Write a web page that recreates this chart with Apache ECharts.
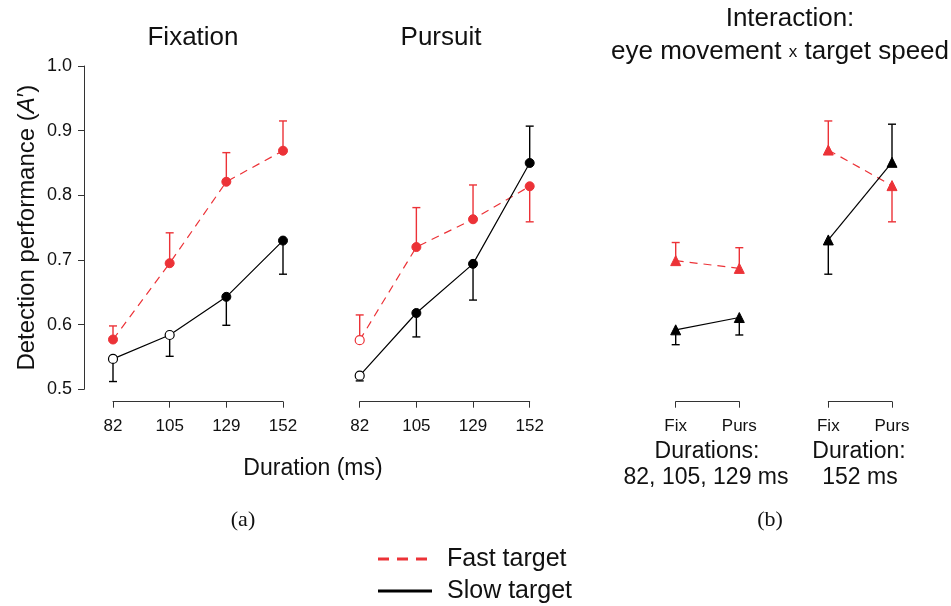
<!DOCTYPE html>
<html>
<head>
<meta charset="utf-8">
<script src="https://cdn.jsdelivr.net/npm/echarts@6/dist/echarts.min.js"></script>
<style>html,body{margin:0;padding:0;background:#fff}#c{width:951px;height:606px}</style>
</head>
<body>
<div id="c"></div>
<script>
// ---- data ----
const durations = ['82', '105', '129', '152'];
const eyeMoves = ['Fix', 'Purs'];
const yTicksMin = 0.5, yTicksMax = 1.0, yTickStep = 0.1;

// Panel (a) Fixation
const fixFast = [0.577, 0.695, 0.821, 0.869];
const fixFastErr = [0.598, 0.742, 0.866, 0.915];
const fixFastOpen = [false, false, false, false];
const fixSlow = [0.547, 0.584, 0.643, 0.730];
const fixSlowErr = [0.512, 0.551, 0.599, 0.678];
const fixSlowOpen = [true, true, false, false];

// Panel (a) Pursuit
const pursFast = [0.576, 0.720, 0.763, 0.814];
const pursFastErr = [0.615, 0.781, 0.816, 0.759];
const pursFastOpen = [true, false, false, false];
const pursSlow = [0.521, 0.618, 0.694, 0.850];
const pursSlowErr = [0.513, 0.581, 0.638, 0.907];
const pursSlowOpen = [true, false, false, false];

// Panel (b) interaction
const earlyFast = [0.699, 0.687];
const earlyFastErr = [0.727, 0.719];
const earlySlow = [0.592, 0.611];
const earlySlowErr = [0.569, 0.584];
const lateFast = [0.870, 0.815];
const lateFastErr = [0.915, 0.759];
const lateSlow = [0.731, 0.851];
const lateSlowErr = [0.678, 0.910];

// ---- styling ----
const RED = '#ec3237';
const BLACK = '#000000';
const AXIS = '#333333';
const FONT = 'Liberation Sans, Arial, sans-serif';

const chart = echarts.init(document.getElementById('c'), null, {renderer: 'canvas'});

const gridTop = 66, gridH = 323.3;
const grids = [
  {left: 113, width: 170, top: gridTop, height: gridH},
  {left: 359.7, width: 170, top: gridTop, height: gridH},
  {left: 675.7, width: 63.6, top: gridTop, height: gridH},
  {left: 828.3, width: 63.7, top: gridTop, height: gridH}
];

function xAxisFor(idx, cats) {
  return {
    gridIndex: idx, type: 'category', data: cats, boundaryGap: false, offset: 12.4,
    axisLine: {show: true, lineStyle: {color: AXIS, width: 1}},
    axisTick: {show: true, length: 6, alignWithLabel: true, interval: 0, lineStyle: {color: AXIS, width: 1}},
    axisLabel: {interval: 0, fontSize: 17, color: '#111', fontFamily: FONT, margin: 16},
    splitLine: {show: false}
  };
}
function yAxisFor(idx, show) {
  const ax = {
    gridIndex: idx, type: 'value', min: yTicksMin, max: yTicksMax, interval: yTickStep,
    show: show, splitLine: {show: false}
  };
  if (show) {
    Object.assign(ax, {
      offset: 29,
      axisLine: {show: true, lineStyle: {color: AXIS, width: 1}},
      axisTick: {show: true, length: 6, lineStyle: {color: AXIS, width: 1}},
      axisLabel: {fontSize: 18, color: '#111', fontFamily: FONT, margin: 12, formatter: v => v.toFixed(1)},
      name: 'Detection performance ({i|A}′)',
      nameLocation: 'middle', nameGap: 45, nameRotate: 90,
      nameTextStyle: {fontSize: 24, color: '#111', fontFamily: FONT,
        rich: {i: {fontSize: 24, fontStyle: 'italic', fontFamily: FONT, color: '#111'}}}
    });
  }
  return ax;
}

function lineSeries(idx, vals, open, color, dashed, symbol) {
  return {
    type: 'line', xAxisIndex: idx, yAxisIndex: idx, z: 3,
    symbol: symbol, symbolSize: symbol === 'triangle' ? 10 : 9,
    lineStyle: {color: color, width: 1.2, type: dashed ? [8, 6] : 'solid'},
    itemStyle: {color: color, borderColor: color, borderWidth: 1},
    data: vals.map((v, i) => ({
      value: v,
      itemStyle: open && open[i] ? {color: '#fff', borderColor: color, borderWidth: 1.2} : {color: color}
    })),
    animation: false
  };
}
function errSeries(idx, vals, errs, color) {
  return {
    type: 'custom', xAxisIndex: idx, yAxisIndex: idx, z: 2,
    data: vals.map((v, i) => [i, v, errs[i]]),
    renderItem: function (params, api) {
      const p = api.coord([api.value(0), api.value(1)]);
      const e = api.coord([api.value(0), api.value(2)]);
      const style = {stroke: color, lineWidth: 1.4};
      return {
        type: 'group', children: [
          {type: 'line', shape: {x1: p[0], y1: p[1], x2: e[0], y2: e[1]}, style: style},
          {type: 'line', shape: {x1: e[0] - 4, y1: e[1], x2: e[0] + 4, y2: e[1]}, style: style}
        ]
      };
    },
    animation: false
  };
}

const series = [
  errSeries(0, fixFast, fixFastErr, RED),
  errSeries(0, fixSlow, fixSlowErr, BLACK),
  lineSeries(0, fixFast, fixFastOpen, RED, true, 'circle'),
  lineSeries(0, fixSlow, fixSlowOpen, BLACK, false, 'circle'),
  errSeries(1, pursFast, pursFastErr, RED),
  errSeries(1, pursSlow, pursSlowErr, BLACK),
  lineSeries(1, pursFast, pursFastOpen, RED, true, 'circle'),
  lineSeries(1, pursSlow, pursSlowOpen, BLACK, false, 'circle'),
  errSeries(2, earlyFast, earlyFastErr, RED),
  errSeries(2, earlySlow, earlySlowErr, BLACK),
  lineSeries(2, earlyFast, null, RED, true, 'triangle'),
  lineSeries(2, earlySlow, null, BLACK, false, 'triangle'),
  errSeries(3, lateFast, lateFastErr, RED),
  errSeries(3, lateSlow, lateSlowErr, BLACK),
  lineSeries(3, lateFast, null, RED, true, 'triangle'),
  lineSeries(3, lateSlow, null, BLACK, false, 'triangle')
];

function txt(text, x, y, size, opts) {
  return Object.assign({
    type: 'text', z: 10,
    style: Object.assign({text: text, x: x, y: y, align: 'center', verticalAlign: 'middle',
      fontSize: size, fontFamily: FONT, fill: '#111'}, (opts && opts.style) || {})
  }, opts && opts.extra || {});
}

const graphics = [
  txt('Fixation', 193, 38, 26),
  txt('Pursuit', 441, 38, 26),
  txt('Interaction:', 790, 19, 26),
  txt('eye movement {s|x} target speed', 780, 52, 26, {style: {rich: {s: {fontSize: 17, fontFamily: FONT, fill: '#111'}}}}),
  txt('Duration (ms)', 313, 469, 23),
  txt('Durations:', 707, 452, 23),
  txt('82, 105, 129 ms', 706, 478, 23),
  txt('Duration:', 859, 452, 23),
  txt('152 ms', 860, 478, 23),
  txt('(a)', 243, 520, 22, {style: {fontFamily: 'Liberation Serif, DejaVu Serif, serif'}}),
  txt('(b)', 770, 520, 22, {style: {fontFamily: 'Liberation Serif, DejaVu Serif, serif'}}),
  {type: 'line', z: 10, shape: {x1: 378, y1: 559, x2: 432, y2: 559}, style: {stroke: RED, lineWidth: 3, lineDash: [11, 8]}},
  {type: 'line', z: 10, shape: {x1: 378, y1: 591, x2: 432, y2: 591}, style: {stroke: BLACK, lineWidth: 3}},
  txt('Fast target', 447, 559, 25, {style: {align: 'left'}}),
  txt('Slow target', 447, 591, 25, {style: {align: 'left'}})
];

chart.setOption({
  animation: false,
  backgroundColor: '#ffffff',
  grid: grids,
  xAxis: [xAxisFor(0, durations), xAxisFor(1, durations), xAxisFor(2, eyeMoves), xAxisFor(3, eyeMoves)],
  yAxis: [yAxisFor(0, true), yAxisFor(1, false), yAxisFor(2, false), yAxisFor(3, false)],
  series: series,
  graphic: graphics
});
</script>
</body>
</html>
